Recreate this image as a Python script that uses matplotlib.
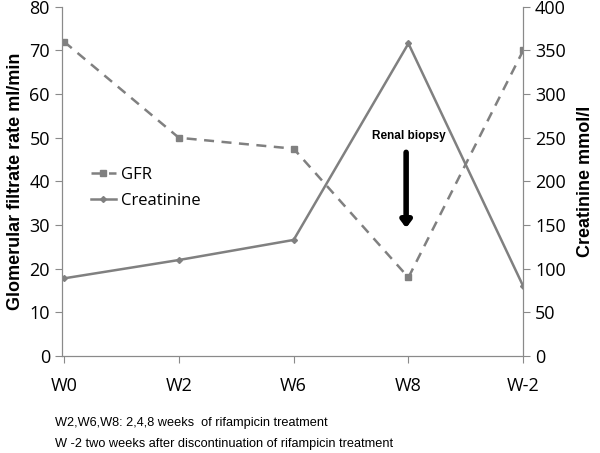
import matplotlib.pyplot as plt

weeks = ['W0', 'W2', 'W6', 'W8', 'W-2']
gfr = [72, 50, 47.5, 18, 70]
creatinine = [89, 110, 133, 358, 80]
notes = ['W2,W6,W8: 2,4,8 weeks  of rifampicin treatment',
         'W -2 two weeks after discontinuation of rifampicin treatment']

grey = '#808080'
spine_grey = '#8a8a8a'
plt.rcParams['font.family'] = ['Open Sans', 'DejaVu Sans']

fig = plt.figure(figsize=(6, 4.53), dpi=100)
ax = fig.add_axes([0.103, 0.214, 0.769, 0.771])
ax2 = ax.twinx()

x = list(range(len(weeks)))
ax.plot(x, gfr, color=grey, lw=1.8, ls=(0, (4, 3)), marker='s', ms=5, label='GFR')
ax2.plot(x, creatinine, color=grey, lw=1.8, marker='D', ms=3, label='Creatinine')

ax.set_ylim(0, 80)
ax2.set_ylim(0, 400)
ax.set_xlim(-0.02, 4)
ax.set_yticks(range(0, 81, 10))
ax2.set_yticks(range(0, 401, 50))
ax.set_xticks(x)
ax.set_xticklabels(weeks)

for a in (ax, ax2):
    for s in a.spines.values():
        s.set_color(spine_grey)
    a.spines['top'].set_visible(False)
    a.tick_params(colors=spine_grey, labelcolor='black', labelsize=13, length=5)
ax.tick_params(axis='x', pad=10)

ax.set_ylabel('Glomerular filtrate rate ml/min', fontsize=13, fontweight='bold', family='Liberation Sans')
ax2.set_ylabel('Creatinine mmol/l', fontsize=13, fontweight='bold', family='Liberation Sans', labelpad=8)

h1, l1 = ax.get_legend_handles_labels()
h2, l2 = ax2.get_legend_handles_labels()
ax2.legend(h1 + h2, l1 + l2, loc='upper left', bbox_to_anchor=(0.03, 0.585), frameon=False,
           fontsize=12, handlelength=1.5, handletextpad=0.3, labelspacing=0.62)

ax.text(3.0, 50.4, 'Renal biopsy', ha='center', va='center', fontsize=8.5, fontweight='bold',
        family='Liberation Sans')
ax.annotate('', xy=(2.98, 28.7), xytext=(2.98, 47.3),
            arrowprops=dict(arrowstyle='-|>,head_width=0.3,head_length=0.4', color='black', lw=4))

for i, note in enumerate(notes):
    fig.text(0.092, 0.067 - i * 0.047, note, fontsize=9.2, family='Liberation Sans', va='center')

fig.savefig('out.png', dpi=100)
